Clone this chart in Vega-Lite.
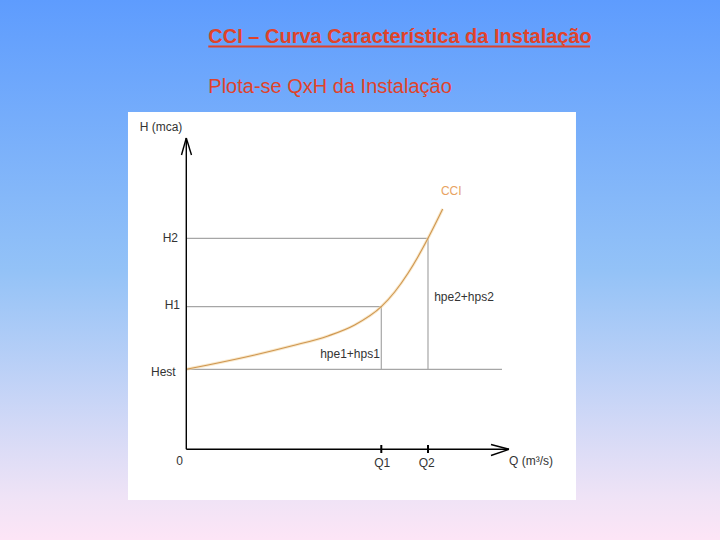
{
  "$schema": "https://vega.github.io/schema/vega-lite/v6.json",
  "width": 720,
  "height": 540,
  "padding": 0,
  "autosize": {"type": "fit", "contains": "padding"},
  "view": {
    "stroke": null,
    "fill": {
      "gradient": "linear",
      "x1": 0, "y1": 0, "x2": 0, "y2": 1,
      "stops": [
        {"offset": 0, "color": "#5e9cfe"},
        {"offset": 0.5, "color": "#93c2f7"},
        {"offset": 0.92, "color": "#efe3f6"},
        {"offset": 1, "color": "#fde5f6"}
      ]
    }
  },
  "datasets": {
    "panel": [{"q": -18.07, "h": -16.29, "q2": 120.76, "h2": 108.35}],
    "guides": [
      {"name": "Hest", "q": 0, "h": 25.7, "q2": 97.83, "h2": 25.7},
      {"name": "H1", "q": 0, "h": 45.81, "q2": 60.43, "h2": 45.81},
      {"name": "H2", "q": 0, "h": 67.78, "q2": 74.9, "h2": 67.78},
      {"name": "Q1", "q": 60.43, "h": 25.7, "q2": 60.43, "h2": 45.81},
      {"name": "Q2", "q": 74.9, "h": 25.7, "q2": 74.9, "h2": 67.78}
    ],
    "cci": [
      {"q": 0, "h": 25.7},
      {"q": 6.72, "h": 27.08},
      {"q": 21.2, "h": 30.29},
      {"q": 32.54, "h": 33.18},
      {"q": 43.91, "h": 36.4},
      {"q": 52.18, "h": 39.93},
      {"q": 60.43, "h": 45.81},
      {"q": 64.57, "h": 50.53},
      {"q": 68.7, "h": 56.54},
      {"q": 71.8, "h": 61.87},
      {"q": 74.9, "h": 67.78},
      {"q": 79.45, "h": 77.19}
    ],
    "axes": [
      {"part": "y axis", "q": 0, "h": 0, "q2": 0, "h2": 100},
      {"part": "x axis", "q": 0, "h": 0, "q2": 100, "h2": 0},
      {"part": "y arrow left", "q": 0, "h": 100, "q2": -1.49, "h2": 94.54},
      {"part": "y arrow right", "q": 0, "h": 100, "q2": 1.61, "h2": 94.54},
      {"part": "x arrow top", "q": 100, "h": 0, "q2": 94.42, "h2": 1.54},
      {"part": "x arrow bottom", "q": 100, "h": 0, "q2": 94.42, "h2": -1.99}
    ],
    "ticks": [
      {"name": "Q1", "q": 60.43, "h": -1.19, "h2": 1.38},
      {"name": "Q2", "q": 74.9, "h": -1.19, "h2": 1.38}
    ],
    "labels": [
      {"text": "H (mca)", "q": -7.84, "h": 103.5, "anchor": "center"},
      {"text": "H2", "q": -2.57, "h": 67.78, "anchor": "right"},
      {"text": "H1", "q": -1.95, "h": 46.2, "anchor": "right"},
      {"text": "Hest", "q": -3.28, "h": 24.9, "anchor": "right"},
      {"text": "0", "q": -2.05, "h": -3.66, "anchor": "center"},
      {"text": "Q1", "q": 60.72, "h": -4.5, "anchor": "center"},
      {"text": "Q2", "q": 74.5, "h": -4.5, "anchor": "center"},
      {"text": "Q (m³/s)", "q": 100, "h": -3.66, "anchor": "left"},
      {"text": "hpe1+hps1", "q": 50.73, "h": 30.6, "anchor": "center"},
      {"text": "hpe2+hps2", "q": 86.06, "h": 49.03, "anchor": "center"}
    ],
    "curvelabel": [{"text": "CCI", "q": 82.1, "h": 83.07}],
    "title": [{"text": "CCI – Curva Característica da Instalação", "q": 6.82, "h": 130.6}],
    "subtitle": [{"text": "Plota-se QxH da Instalação", "q": 6.82, "h": 114.55}],
    "underline": [{"q": 6.82, "h": 129.4, "q2": 125.1}]
  },
  "layer": [
    {
      "data": {"name": "panel"},
      "mark": {"type": "rect", "fill": "#ffffff", "stroke": null},
      "encoding": {
        "x": {"field": "q", "type": "quantitative", "scale": {"domain": [-57.73, 165.39], "nice": false, "zero": false}, "axis": null},
        "x2": {"field": "q2"},
        "y": {"field": "h", "type": "quantitative", "scale": {"domain": [-29.14, 144.33], "nice": false, "zero": false}, "axis": null},
        "y2": {"field": "h2"}
      }
    },
    {
      "data": {"name": "guides"},
      "mark": {"type": "rule", "color": "#a6a6a6", "strokeWidth": 1.2},
      "encoding": {
        "x": {"field": "q", "type": "quantitative"},
        "x2": {"field": "q2"},
        "y": {"field": "h", "type": "quantitative"},
        "y2": {"field": "h2"}
      }
    },
    {
      "data": {"name": "cci"},
      "mark": {"type": "line", "color": "#f3d9a8", "strokeWidth": 3, "opacity": 0.6, "interpolate": "monotone"},
      "encoding": {
        "x": {"field": "q", "type": "quantitative"},
        "y": {"field": "h", "type": "quantitative"}
      }
    },
    {
      "data": {"name": "cci"},
      "mark": {"type": "line", "color": "#cf9650", "strokeWidth": 1.1, "interpolate": "monotone"},
      "encoding": {
        "x": {"field": "q", "type": "quantitative"},
        "y": {"field": "h", "type": "quantitative"}
      }
    },
    {
      "data": {"name": "axes"},
      "mark": {"type": "rule", "color": "#000000", "strokeWidth": 1.4},
      "encoding": {
        "x": {"field": "q", "type": "quantitative"},
        "x2": {"field": "q2"},
        "y": {"field": "h", "type": "quantitative"},
        "y2": {"field": "h2"}
      }
    },
    {
      "data": {"name": "ticks"},
      "mark": {"type": "rule", "color": "#000000", "strokeWidth": 2},
      "encoding": {
        "x": {"field": "q", "type": "quantitative"},
        "y": {"field": "h", "type": "quantitative"},
        "y2": {"field": "h2"}
      }
    },
    {
      "data": {"name": "labels"},
      "transform": [{"filter": "datum.anchor === 'center'"}],
      "mark": {"type": "text", "font": "Liberation Sans", "fontSize": 12, "color": "#333333", "baseline": "middle", "align": "center"},
      "encoding": {
        "x": {"field": "q", "type": "quantitative"},
        "y": {"field": "h", "type": "quantitative"},
        "text": {"field": "text"}
      }
    },
    {
      "data": {"name": "labels"},
      "transform": [{"filter": "datum.anchor === 'right'"}],
      "mark": {"type": "text", "font": "Liberation Sans", "fontSize": 12, "color": "#333333", "baseline": "middle", "align": "right"},
      "encoding": {
        "x": {"field": "q", "type": "quantitative"},
        "y": {"field": "h", "type": "quantitative"},
        "text": {"field": "text"}
      }
    },
    {
      "data": {"name": "labels"},
      "transform": [{"filter": "datum.anchor === 'left'"}],
      "mark": {"type": "text", "font": "Liberation Sans", "fontSize": 12, "color": "#333333", "baseline": "middle", "align": "left"},
      "encoding": {
        "x": {"field": "q", "type": "quantitative"},
        "y": {"field": "h", "type": "quantitative"},
        "text": {"field": "text"}
      }
    },
    {
      "data": {"name": "curvelabel"},
      "mark": {"type": "text", "font": "Liberation Sans", "fontSize": 12, "color": "#e8a362", "baseline": "middle", "align": "center"},
      "encoding": {
        "x": {"field": "q", "type": "quantitative"},
        "y": {"field": "h", "type": "quantitative"},
        "text": {"field": "text"}
      }
    },
    {
      "data": {"name": "title"},
      "mark": {"type": "text", "font": "Liberation Sans", "fontSize": 20, "fontWeight": "bold", "color": "#e0432a", "baseline": "alphabetic", "align": "left"},
      "encoding": {
        "x": {"field": "q", "type": "quantitative"},
        "y": {"field": "h", "type": "quantitative"},
        "text": {"field": "text"}
      }
    },
    {
      "data": {"name": "underline"},
      "mark": {"type": "rule", "color": "#e0432a", "strokeWidth": 2},
      "encoding": {
        "x": {"field": "q", "type": "quantitative"},
        "x2": {"field": "q2"},
        "y": {"field": "h", "type": "quantitative"}
      }
    },
    {
      "data": {"name": "subtitle"},
      "mark": {"type": "text", "font": "Liberation Sans", "fontSize": 20, "color": "#e0432a", "baseline": "alphabetic", "align": "left"},
      "encoding": {
        "x": {"field": "q", "type": "quantitative"},
        "y": {"field": "h", "type": "quantitative"},
        "text": {"field": "text"}
      }
    }
  ]
}
